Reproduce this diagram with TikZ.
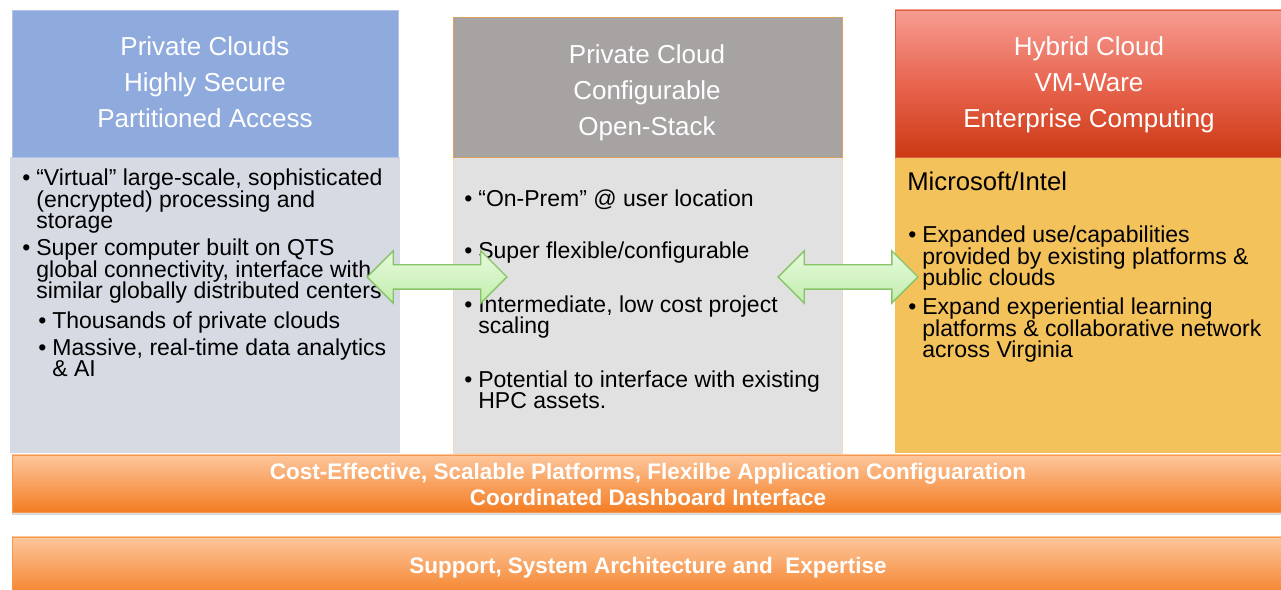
\documentclass[tikz,border=0pt]{standalone}
\usepackage{fontspec}
\setmainfont{Liberation Sans}
\usepackage{tikz}
\usetikzlibrary{calc,shapes,arrows,shadows}

\definecolor{hdblue}{HTML}{8FAADC}
\definecolor{bdblue}{HTML}{D5DAE3}
\definecolor{hdgray}{HTML}{A7A3A3}
\definecolor{bdgray}{HTML}{E1E1E1}
\definecolor{hdredtop}{HTML}{F79C92}
\definecolor{hdredmid}{HTML}{E8654F}
\definecolor{hdredbot}{HTML}{CC3914}
\definecolor{bdgold}{HTML}{F4C25B}
\definecolor{bartop}{HTML}{FDC69C}
\definecolor{barbot}{HTML}{F47D22}
\definecolor{arrtop}{HTML}{E6FADC}
\definecolor{arrbot}{HTML}{C2EDAD}
\definecolor{arrline}{HTML}{86C467}
\definecolor{edgeorange}{HTML}{D9A15E}

% base anchor of a multi-line node = baseline of its last line
\tikzset{
  hdtext/.style={anchor=base, align=center, text=white, inner sep=0pt,
    font=\fontsize{14.8pt}{20.5pt}\selectfont},
  bdtext/.style={anchor=base west, align=left, inner sep=0pt,
    font=\fontsize{13.1pt}{12.5pt}\selectfont},
  bartext/.style={anchor=base, align=center, text=white, inner sep=0pt,
    font=\bfseries\fontsize{12.8pt}{14.8pt}\selectfont},
  barbox/.style={top color=bartop, bottom color=barbot, draw=barbot!80!white,
    drop shadow={shadow xshift=0cm, shadow yshift=-0.06cm, opacity=0.3}},
  linkarrow/.style={double arrow, draw=arrline, line width=0.8pt,
    top color=arrtop, bottom color=arrbot, inner xsep=0pt, inner ysep=0.23cm,
    minimum height=2.8cm, minimum width=1.02cm,
    double arrow head extend=0.28cm},
}
\newcommand{\bul}{\llap{\textbullet\hspace{0.12cm}}}

\begin{document}
\begin{tikzpicture}[x=0.02cm, y=-0.02cm]
    \useasboundingbox (0,0) rectangle (1281,590);
    % column bodies
    \fill[bdblue] (10,157) rectangle (400,453);
    \draw[fill=bdgray, draw=edgeorange!40] (453,157) rectangle (842,453);
    \fill[bdgold] (895,157) rectangle (1281,453);
    % column headers
    \draw[fill=hdblue, draw=hdblue!70!white] (12,10) rectangle (398,157);
    \draw[fill=hdgray, draw=edgeorange] (453,17) rectangle (842,157);
    \draw[top color=hdredtop, bottom color=hdredbot, middle color=hdredmid,
        draw=hdredbot!80!white] (895,10) rectangle (1281,157);

    \node[hdtext] (hleft) at (205,128) {Private Clouds\\Highly Secure\\Partitioned Access};
    \node[hdtext] (hmid) at (647,136) {Private Cloud\\Configurable\\Open-Stack};
    \node[hdtext] (hright) at (1089,128) {Hybrid Cloud\\VM-Ware\\Enterprise Computing};

    % left column
    \node[bdtext] (l1) at (36,229) {\bul “Virtual” large-scale, sophisticated\\(encrypted) processing and\\storage};
    \node[bdtext] (l2) at (36,299) {\bul Super computer built on QTS\\global connectivity, interface with\\similar globally distributed centers};
    \node[bdtext] (l3) at (52,329) {\bul Thousands of private clouds};
    \node[bdtext] (l4) at (52,377) {\bul Massive, real-time data analytics\\\& AI};

    % middle column
    \node[bdtext] (m1) at (478,207) {\bul “On-Prem” @ user location};
    \node[bdtext] (m2) at (478,259) {\bul Super flexible/configurable};
    \node[bdtext] (m3) at (478,334) {\bul Intermediate, low cost project\\scaling};
    \node[bdtext] (m4) at (478,409) {\bul Potential to interface with existing\\HPC assets.};

    % right column
    \node[bdtext, font=\fontsize{14.6pt}{16pt}\selectfont] (r0) at (907,191) {Microsoft/Intel};
    \node[bdtext] (r1) at (922,286) {\bul Expanded use/capabilities\\provided by existing platforms \&\\public clouds};
    \node[bdtext] (r2) at (922,358) {\bul Expand experiential learning\\platforms \& collaborative network\\across Virginia};

    % links between columns
    \node[linkarrow] (a1) at (437,277) {};
    \node[linkarrow] (a2) at (848,277) {};

    % bottom bars
    \draw[barbox] (12,455) rectangle (1281,512);
    \draw[barbox] (12,537) rectangle (1281,600);
    \node[bartext] (b1) at (648,506) {Cost-Effective, Scalable Platforms, Flexilbe Application Configuaration\\Coordinated Dashboard Interface};
    \node[bartext] (b2) at (648,574) {Support, System Architecture and~~Expertise};
\end{tikzpicture}
\end{document}
